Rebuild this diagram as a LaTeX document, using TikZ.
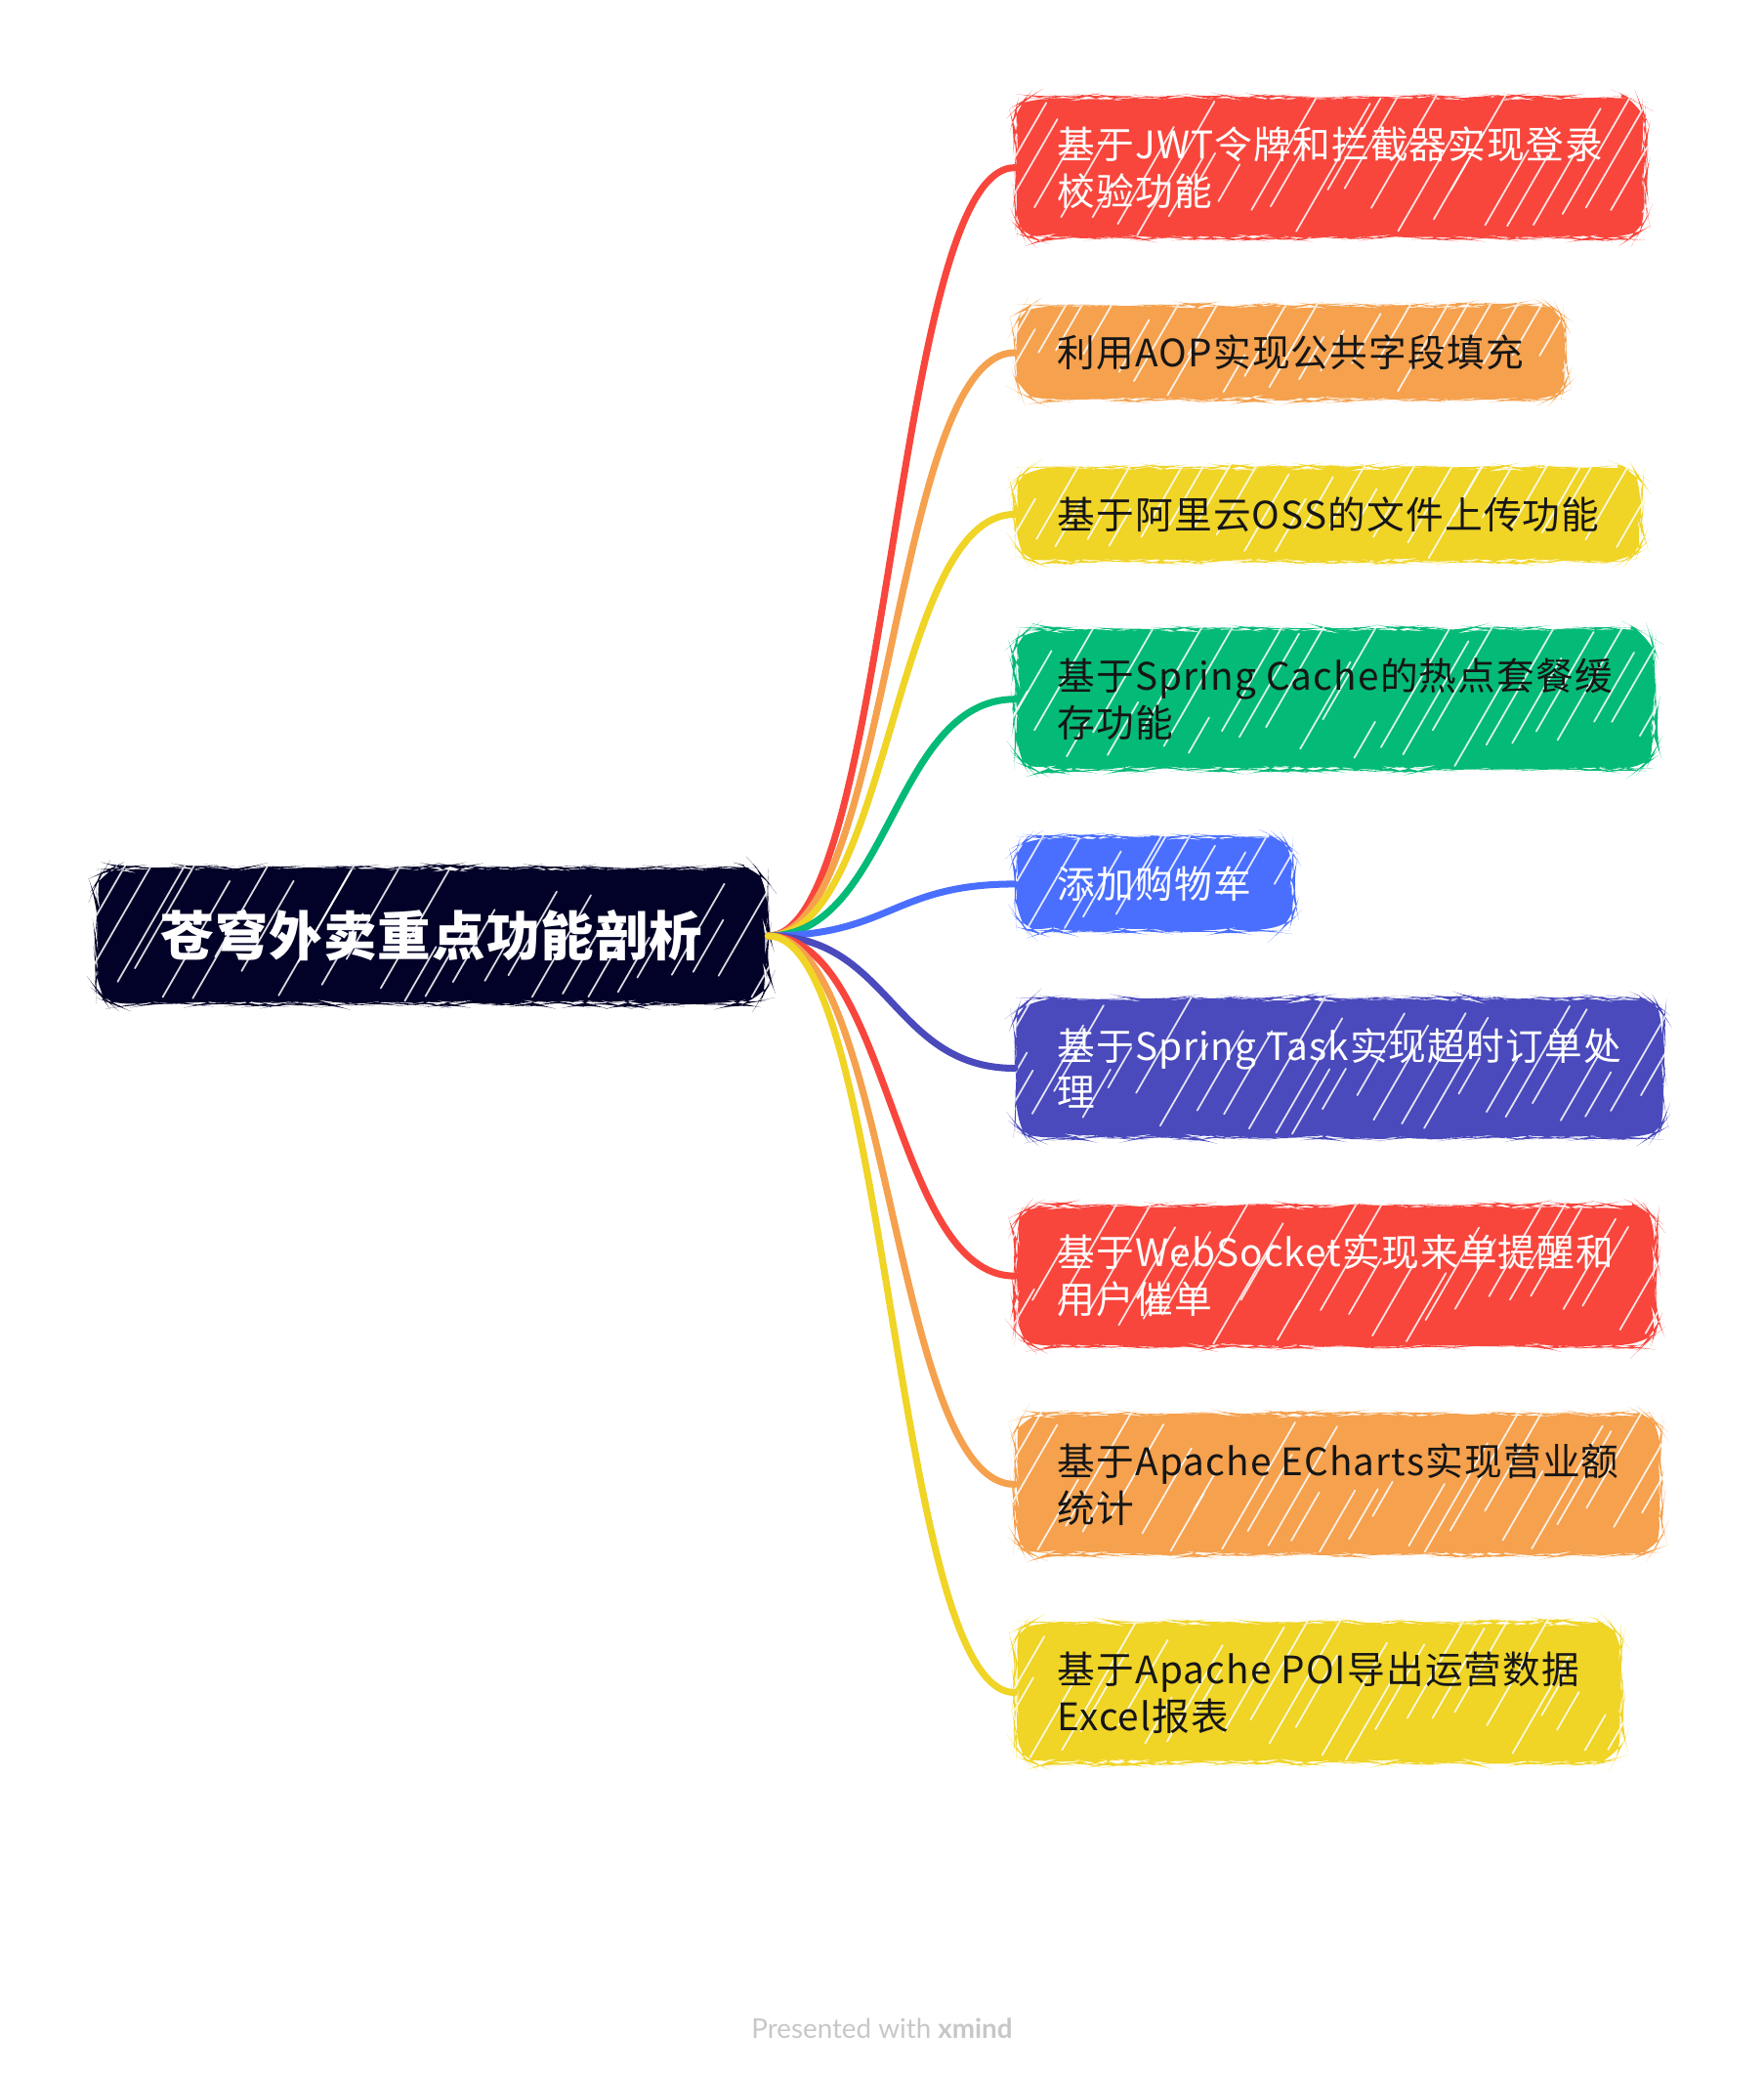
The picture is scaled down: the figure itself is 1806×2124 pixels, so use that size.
\documentclass[tikz,border=0pt]{standalone}
\usepackage{fontspec}
\setmainfont{Noto Sans CJK SC}
\newfontfamily\creditfont{Lato}
\usetikzlibrary{positioning,decorations.pathmorphing}

% Branch colours
\definecolor{xnavy}{HTML}{020228}
\definecolor{xred}{HTML}{F8463D}
\definecolor{xorange}{HTML}{F5A14E}
\definecolor{xyellow}{HTML}{F0D426}
\definecolor{xgreen}{HTML}{04BA77}
\definecolor{xblue}{HTML}{4A6FFF}
\definecolor{xindigo}{HTML}{4A4ABD}
\definecolor{xink}{HTML}{161616}

\tikzset{
    hatch/.style={path picture={
        \foreach \k in {0,...,32} {
            \pgfmathsetmacro\hx{\k*0.27 - 1.2 + 0.14*rnd}
            \pgfmathsetmacro\hy{0.05 + 0.5*rnd}
            \pgfmathsetmacro\hl{0.4 + 1.3*rnd}
            \draw[white, line width=0.5pt, line cap=round, opacity=0.85]
                ([xshift=\hx cm, yshift=\hy cm]path picture bounding box.south west) -- ++(60:\hl cm);
        }
    }},
    box/.style={rounded corners=7pt, inner xsep=0.43cm, inner ysep=0.3cm, align=left,
        font=\fontsize{11}{13.6}\selectfont\addfontfeature{LetterSpace=3}, hatch,
        decorate, decoration={random steps, segment length=2.5pt, amplitude=0.4pt}},
    leaf/.style 2 args={box, fill=#1, text=#2, anchor=north west},
    core/.style={box, fill=xnavy, text=white, minimum width=6.87cm, minimum height=1.39cm,
        align=center, font=\fontsize{15.5}{18}\selectfont\bfseries\addfontfeature{LetterSpace=2}},
    next/.style={below=0.68cm of #1.south west, anchor=north west},
    branch/.style={line width=2pt, line cap=round, draw=#1}
}

\begin{document}
\begin{tikzpicture}[x=0.01cm, y=-0.01cm]
    \pgfmathsetseed{7}
    \useasboundingbox (0,0) rectangle (1806,2124);

    % Central topic
    \node[core] (root) at (442,958) {苍穹外卖重点功能剖析};

    % Sub topics
    \node[leaf={xred}{white}] (jwt) at (1039,99) {基于JWT令牌和拦截器实现登录\\校验功能};
    \node[leaf={xorange}{xink}, next=jwt] (aop) {利用AOP实现公共字段填充};
    \node[leaf={xyellow}{xink}, next=aop] (oss) {基于阿里云OSS的文件上传功能};
    \node[leaf={xgreen}{xink}, next=oss] (cache) {基于Spring Cache的热点套餐缓\\存功能};
    \node[leaf={xblue}{white}, next=cache] (cart) {添加购物车};
    \node[leaf={xindigo}{white}, next=cart] (task) {基于Spring Task实现超时订单处\\理};
    \node[leaf={xred}{white}, next=task] (socket) {基于WebSocket实现来单提醒和\\用户催单};
    \node[leaf={xorange}{xink}, next=socket] (charts) {基于Apache ECharts实现营业额\\统计};
    \node[leaf={xyellow}{xink}, next=charts] (poi) {基于Apache POI导出运营数据\\Excel报表};

    % Branches
    \foreach \n/\c in {jwt/xred, aop/xorange, oss/xyellow, cache/xgreen, cart/xblue,
                      task/xindigo, socket/xred, charts/xorange, poi/xyellow} {
        \draw[branch=\c] (root.east) .. controls +(1.25cm,0) and +(-1.25cm,0) .. (\n.west);
    }

    % Footer
    \node[font=\creditfont\fontsize{7.9}{9}\selectfont, text=black!22] (credit) at (903,2076)
        {Presented with \textbf{xmind}};
\end{tikzpicture}
\end{document}
